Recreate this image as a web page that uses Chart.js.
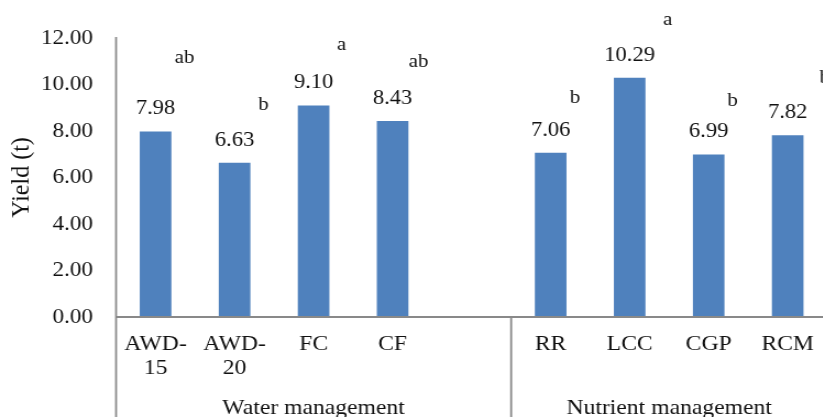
<!DOCTYPE html>
<html>
<head>
<meta charset="utf-8">
<script src="https://cdn.jsdelivr.net/npm/chart.js@4.4.1/dist/chart.umd.min.js"></script>
<style>
html, body { margin: 0; padding: 0; background: #fff; overflow: hidden; }
#wrap { width: 790px; height: 440px; transform: scaleX(1.1); transform-origin: 0 0; }
</style>
</head>
<body>
<div id="wrap"><canvas id="mychart" width="790" height="440"></canvas></div>
<script>
// data
var categories = [['AWD-', '15'], ['AWD-', '20'], 'FC', 'CF', '', 'RR', 'LCC', 'CGP', 'RCM'];
var yields = [7.98, 6.63, 9.10, 8.43, null, 7.06, 10.29, 6.99, 7.82];
var letters = ['ab', 'b', 'a', 'ab', '', 'b', 'a', 'b', 'b'];
var letterLevels = [10.92, 8.90, 11.48, 10.75, null, 9.20, 12.56, 9.08, 10.06];
var groups = ['Water management', 'Nutrient management'];
var groupSizes = [5, 4];
var yTicks = [0, 2, 4, 6, 8, 10, 12];

var SERIF = '"Liberation Serif", "Times New Roman", serif';
var TXT = '#111';
var LINE = '#898989';
// horizontal nudge of the letters (px), image is stretched by 1.1
var letterDx = [29, 29, 28, 26, 0, 24.5, 38, 24, 37];

var extras = {
	id: 'extras',
	afterDraw: function (chart) {
		var ctx = chart.ctx, xs = chart.scales.x, ys = chart.scales.y, area = chart.chartArea;
		var meta = chart.getDatasetMeta(0);
		ctx.save();
		// axis lines
		ctx.strokeStyle = LINE;
		ctx.lineWidth = 1.8;
		ctx.beginPath();
		ctx.moveTo(area.left, area.top - 1);
		ctx.lineTo(area.left, chart.height);
		ctx.moveTo(area.left, area.bottom);
		ctx.lineTo(chart.width, area.bottom);
		// separators between groups
		var idx = 0;
		for (var g = 0; g < groupSizes.length - 1; g++) {
			idx += groupSizes[g];
			var sx = (xs.getPixelForValue(idx - 1) + xs.getPixelForValue(idx)) / 2;
			ctx.moveTo(sx, area.bottom);
			ctx.lineTo(sx, chart.height);
		}
		ctx.stroke();

		// value labels
		ctx.fillStyle = TXT;
		ctx.textAlign = 'center';
		ctx.textBaseline = 'alphabetic';
		ctx.font = '20.5px ' + SERIF;
		meta.data.forEach(function (bar, i) {
			if (yields[i] == null) return;
			ctx.fillText(yields[i].toFixed(2), bar.x, bar.y - 17);
		});

		// significance letters
		ctx.font = '19px ' + SERIF;
		letters.forEach(function (l, i) {
			if (!l) return;
			ctx.fillText(l, xs.getPixelForValue(i) + letterDx[i] / 1.1, ys.getPixelForValue(letterLevels[i]));
		});

		// group labels
		ctx.font = '21.5px ' + SERIF;
		var start = 0;
		groups.forEach(function (name, g) {
			var end = start + groupSizes[g] - 1;
			var half = (xs.getPixelForValue(1) - xs.getPixelForValue(0)) / 2;
			var cx = (xs.getPixelForValue(start) - half + xs.getPixelForValue(end) + half) / 2;
			ctx.fillText(name, cx, 414);
			start = end + 1;
		});
		ctx.restore();
	}
};

new Chart(document.getElementById('mychart'), {
	type: 'bar',
	plugins: [extras],
	data: {
		labels: categories,
		datasets: [{
			label: 'Yield (t)',
			data: yields,
			backgroundColor: '#4F81BD',
			borderWidth: 0,
			barPercentage: 0.4,
			categoryPercentage: 1
		}]
	},
	options: {
		responsive: false,
		animation: false,
		layout: { padding: { top: 38, left: 0, right: 38, bottom: 0 } },
		plugins: {
			legend: { display: false },
			tooltip: { enabled: false },
			title: { display: false }
		},
		scales: {
			x: {
				grid: { display: false, drawTicks: false },
				border: { display: false },
				afterFit: function (scale) { scale.height = 123; },
				ticks: {
					color: TXT,
					autoSkip: false,
					maxRotation: 0,
					padding: 15,
					font: { family: SERIF, size: 21.5, lineHeight: 1.12 }
				}
			},
			y: {
				min: 0,
				max: 12,
				afterFit: function (scale) { scale.width = 105.5; },
				afterBuildTicks: function (scale) {
					scale.ticks = yTicks.map(function (v) { return { value: v }; });
				},
				grid: { display: false, drawTicks: false },
				border: { display: false },
				ticks: {
					color: TXT,
					padding: 21,
					font: { family: SERIF, size: 21 },
					callback: function (v) { return Number(v).toFixed(2); }
				},
				title: {
					display: true,
					text: 'Yield (t)',
					color: TXT,
					padding: { top: 8, bottom: 0 },
					font: { family: SERIF, size: 24, lineHeight: 1 }
				}
			}
		}
	}
});
</script>
</body>
</html>
